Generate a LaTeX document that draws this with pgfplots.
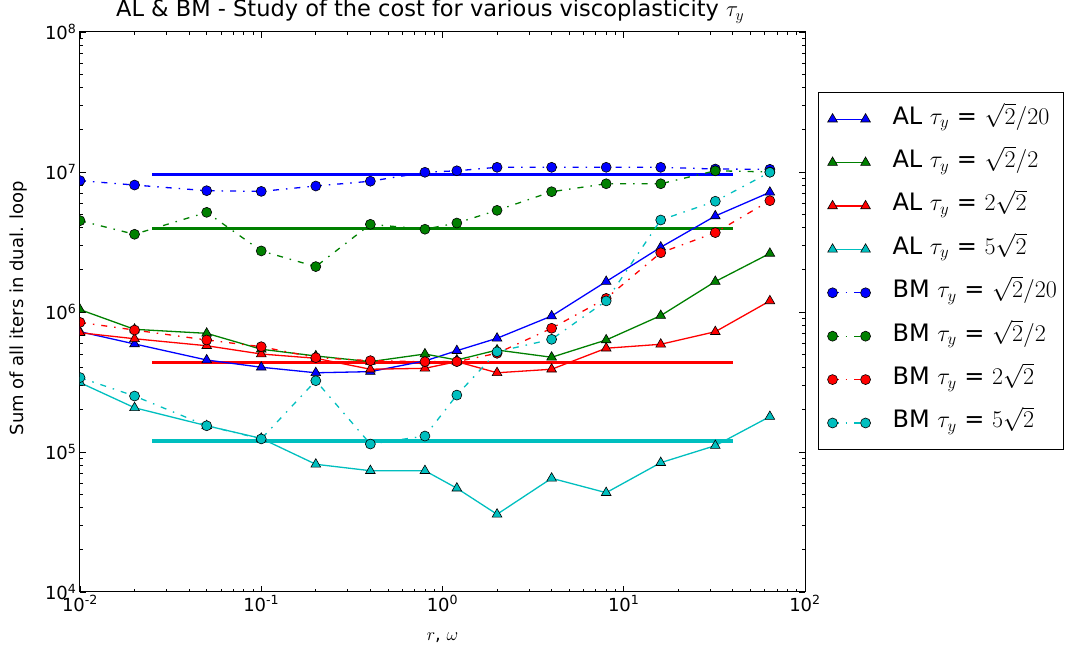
\documentclass[border=0pt]{standalone}
\usepackage{fix-cm}
\usepackage[no-math]{fontspec}
\setmainfont{DejaVu Sans}
\usepackage{pgfplots}
\pgfplotsset{compat=1.18}

\definecolor{mb}{rgb}{0,0,1}
\definecolor{mg}{rgb}{0,0.5,0}
\definecolor{mr}{rgb}{1,0,0}
\definecolor{mc}{rgb}{0,0.75,0.75}

% r/omega, then AL and BM costs for the four tau_y
\pgfplotstableread{
x     ALb     ALg     ALr     ALc     BMb      BMg     BMr     BMc
0.01  7.23e5  1.04e6  7.11e5  3.13e5  8.67e6   4.49e6  8.43e5  3.40e5
0.02  5.91e5  7.52e5  6.44e5  2.07e5  8.07e6   3.59e6  7.43e5  2.51e5
0.05  4.54e5  7.04e5  5.74e5  1.54e5  7.35e6   5.15e6  6.31e5  1.54e5
0.1   4.03e5  5.42e5  5.01e5  1.25e5  7.27e6   2.73e6  5.65e5  1.24e5
0.2   3.68e5  4.85e5  4.67e5  8.17e4  7.94e6   2.11e6  4.72e5  3.23e5
0.4   3.75e5  4.42e5  3.90e5  7.35e4  8.59e6   4.23e6  4.49e5  1.14e5
0.8   4.47e5  5.01e5  3.96e5  7.35e4  9.95e6   3.90e6  4.42e5  1.30e5
1.2   5.29e5  4.54e5  4.42e5  5.51e4  1.02e7   4.32e6  4.42e5  2.55e5
2     6.49e5  5.35e5  3.68e5  3.59e4  1.08e7   5.32e6  5.07e5  5.20e5
4     9.36e5  4.75e5  3.90e5  6.49e4  1.08e7   7.23e6  7.65e5  6.38e5
8     1.65e6  6.31e5  5.51e5  5.12e4  1.08e7   8.24e6  1.25e6  1.20e6
16    2.90e6  9.42e5  5.88e5  8.39e4  1.08e7   8.24e6  2.65e6  4.54e6
32    4.85e6  1.65e6  7.23e5  1.11e5  1.05e7   1.02e7  3.69e6  6.18e6
64    7.16e6  2.62e6  1.20e6  1.79e5  1.045e7  1.00e7  6.24e6  9.95e6
}\cost

\pgfplotsset{
  al/.style={solid, line width=1.3pt, color=#1, mark=triangle*, mark size=5.6pt,
    mark options={solid, draw=black, line width=0.6pt, fill=#1}},
  bm/.style={line width=1.3pt, color=#1, dash pattern=on 6pt off 7pt on 1.5pt off 7pt,
    mark=*, mark size=5pt, mark options={solid, draw=black, line width=0.6pt, fill=#1}},
  ref/.style={line width=3.5pt, color=#1, forget plot},
}
\newcommand\leg[1]{\makebox[162pt][l]{#1}}

\begin{document}
\begin{tikzpicture}[x=1pt,y=1pt]
\useasboundingbox (0,0) rectangle (1068,650);
\begin{axis}[
  at={(80pt,58pt)}, anchor=south west,
  scale only axis, width=725pt, height=560pt,
  xmode=log, ymode=log, log basis x=10, log basis y=10,
  xmin=0.01, xmax=100, ymin=1e4, ymax=1e8,
  xticklabel={\pgfmathparse{int(round(\tick))}10\textsuperscript{\pgfmathresult}},
  yticklabel={\pgfmathparse{int(round(\tick))}10\textsuperscript{\pgfmathresult}},
  tick label style={font=\fontsize{18}{21}\selectfont},
  major tick length=6pt, minor tick length=3pt,
  tick style={black, line width=0.8pt},
  axis line style={line width=1pt},
  clip marker paths=true,
  title={AL \& BM - Study of the cost for various viscoplasticity $\tau_y$},
  title style={font=\fontsize{22.5}{27}\selectfont, at={(axis description cs:0.483,1)},
    anchor=base, yshift=9pt},
  xlabel={$r$, $\omega$},
  xlabel style={font=\fontsize{18}{21}\selectfont, at={(axis description cs:0.5,-0.082)}, anchor=center},
  ylabel={Sum of all iters in dual. loop},
  ylabel style={font=\fontsize{18}{21}\selectfont, at={(axis description cs:-0.085,0.507)}, anchor=center},
  legend style={at={(axis description cs:1.018,0.8934)}, anchor=north west,
    draw=black, line width=1pt, font=\fontsize{24}{28}\selectfont,
    inner xsep=9pt, inner ysep=14pt, row sep=17.4pt, column sep=22pt,
    nodes={text height=16pt, text depth=6pt, inner ysep=2pt, inner xsep=0pt}},
  legend cell align=left,
  legend image code/.code={\draw[#1] plot coordinates {(0pt,0pt) (33pt,0pt)};},
]
\addplot[ref=mb] coordinates {(0.025,9.6e6) (40,9.6e6)};
\addplot[ref=mg] coordinates {(0.025,3.96e6) (40,3.96e6)};
\addplot[ref=mr] coordinates {(0.025,4.34e5) (40,4.34e5)};
\addplot[ref=mc] coordinates {(0.025,1.2e5) (40,1.2e5)};

\addplot[al=mb] table[x=x, y=ALb] {\cost};
\addlegendentry{\leg{AL $\tau_y$ = $\sqrt{2}/20$}}
\addplot[al=mg] table[x=x, y=ALg] {\cost};
\addlegendentry{\leg{AL $\tau_y$ = $\sqrt{2}/2$}}
\addplot[al=mr] table[x=x, y=ALr] {\cost};
\addlegendentry{\leg{AL $\tau_y$ = $2\sqrt{2}$}}
\addplot[al=mc] table[x=x, y=ALc] {\cost};
\addlegendentry{\leg{AL $\tau_y$ = $5\sqrt{2}$}}
\addplot[bm=mb] table[x=x, y=BMb] {\cost};
\addlegendentry{\leg{BM $\tau_y$ = $\sqrt{2}/20$}}
\addplot[bm=mg] table[x=x, y=BMg] {\cost};
\addlegendentry{\leg{BM $\tau_y$ = $\sqrt{2}/2$}}
\addplot[bm=mr] table[x=x, y=BMr] {\cost};
\addlegendentry{\leg{BM $\tau_y$ = $2\sqrt{2}$}}
\addplot[bm=mc] table[x=x, y=BMc] {\cost};
\addlegendentry{\leg{BM $\tau_y$ = $5\sqrt{2}$}}
\end{axis}
\end{tikzpicture}
\end{document}
